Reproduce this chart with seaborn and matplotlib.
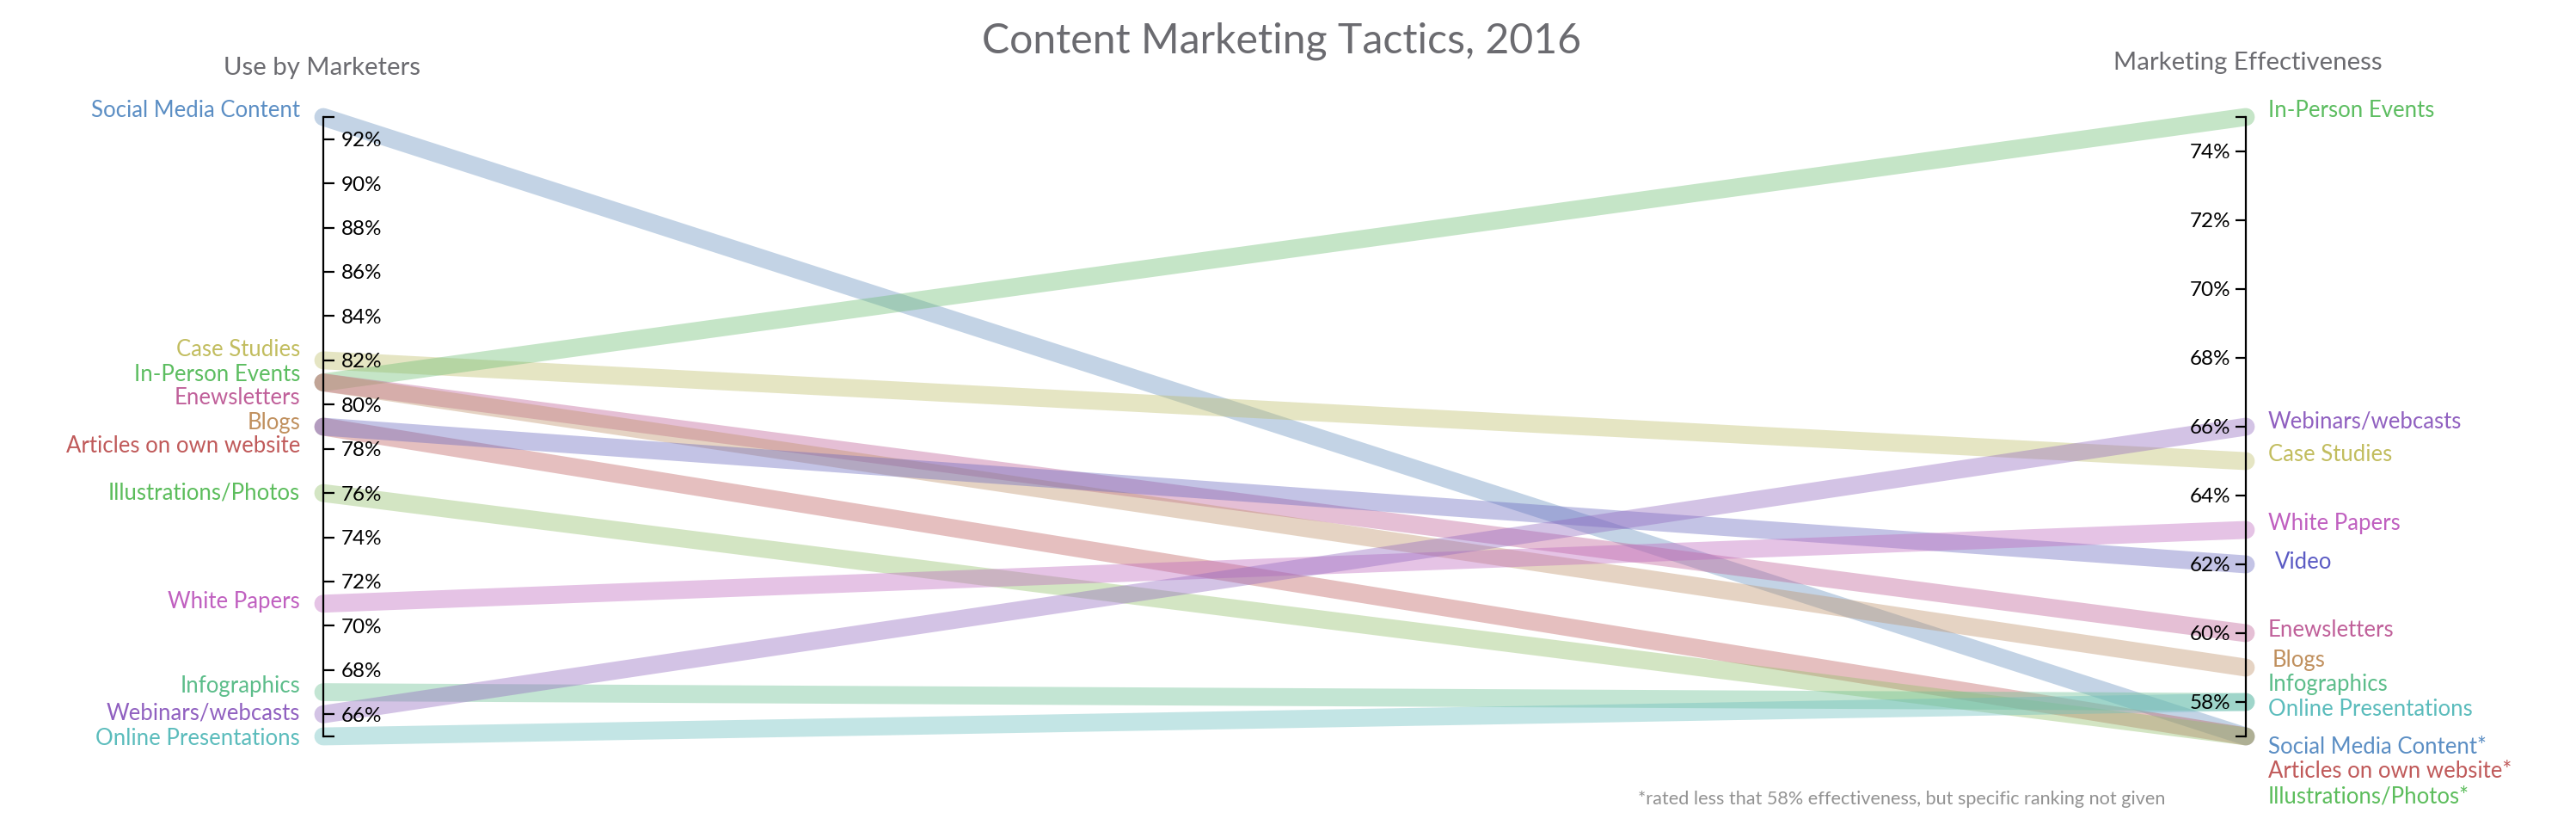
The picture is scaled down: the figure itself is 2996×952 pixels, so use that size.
import matplotlib
matplotlib.use("Agg")
import matplotlib.pyplot as plt
import seaborn as sns
import pandas as pd
import numpy as np

# ---------------- data ----------------
tactics = ["Social Media Content", "Case Studies", "In-Person Events", "Enewsletters",
           "Blogs", "Articles on own website", "Video", "Illustrations/Photos",
           "White Papers", "Infographics", "Webinars/webcasts", "Online Presentations"]
use_by_marketers = [93, 82, 81, 81, 81, 79, 79, 76, 71, 67, 66, 65]
effectiveness = [57, 65, 75, 60, 59, 57, 62, 57, 63, 58, 66, 58]
left_labels = ["Social Media Content", "Case Studies", "In-Person Events", "Enewsletters",
               "Blogs", "Articles on own website", None, "Illustrations/Photos",
               "White Papers", "Infographics", "Webinars/webcasts", "Online Presentations"]
right_labels = ["Social Media Content*", "Case Studies", "In-Person Events", "Enewsletters",
                "Blogs", "Articles on own website*", "Video", "Illustrations/Photos*",
                "White Papers", "Infographics", "Webinars/webcasts", "Online Presentations"]
left_ticks = [66, 68, 70, 72, 74, 76, 78, 80, 82, 84, 86, 88, 90, 92]
right_ticks = [58, 60, 62, 64, 66, 68, 70, 72, 74]
left_domain = (65, 93)
right_domain = (57, 75)

title = "Content Marketing Tactics, 2016"
left_title = "Use by Marketers"
right_title = "Marketing Effectiveness"
footnote = "*rated less that 58% effectiveness, but specific ranking not given"

# ---------------- styles ----------------
line_colors = {
    "Social Media Content": "#6993c0", "Case Studies": "#bebe6b", "In-Person Events": "#6ebe75",
    "Enewsletters": "#be6196", "Blogs": "#c0936b", "Articles on own website": "#be6161",
    "Video": "#6969c0", "Illustrations/Photos": "#93c06b", "White Papers": "#be69be",
    "Infographics": "#6bc093", "Webinars/webcasts": "#9369c0", "Online Presentations": "#6bbebe",
}
label_colors = {
    "Social Media Content": "#5b8ec4", "Case Studies": "#c2bd5f", "In-Person Events": "#5cbd60",
    "Enewsletters": "#c0609a", "Blogs": "#c0905e", "Articles on own website": "#c05a5a",
    "Video": "#5b5bc4", "Illustrations/Photos": "#5cbd5c", "White Papers": "#c060c0",
    "Infographics": "#5cbd8a", "Webinars/webcasts": "#9060c0", "Online Presentations": "#5bbcbc",
}
# label offsets in pixels (dx, dy) relative to the line end
left_off = {
    "Social Media Content": (-27, 8), "Case Studies": (-27, 12), "In-Person Events": (-27, 9),
    "Enewsletters": (-27, -18), "Blogs": (-27, -47), "Articles on own website": (-27, -22),
    "Illustrations/Photos": (-27, 0), "White Papers": (-27, 2), "Infographics": (-27, 7),
    "Webinars/webcasts": (-27, 1), "Online Presentations": (-27, -2),
}
right_off = {
    "In-Person Events": (26, 8), "Webinars/webcasts": (26, 6), "Case Studies": (26, 8),
    "White Papers": (26, 8), "Video": (34, 3), "Enewsletters": (26, 3), "Blogs": (31, 8),
    "Infographics": (26, 21), "Online Presentations": (26, -8),
    "Social Media Content": (26, -12), "Articles on own website": (26, -41),
    "Illustrations/Photos": (26, -70),
}

sns.set_theme(style="white")
plt.rcParams["font.family"] = ["Lato", "DejaVu Sans"]

W, H = 2996, 952
fig = plt.figure(figsize=(W / 100, H / 100), dpi=100)

xL, xR = 376 / W, 2612 / W
y_top, y_bot = 1 - 136 / H, 1 - 856 / H
ax = fig.add_axes([xL, y_bot, xR - xL, y_top - y_bot])


def to_left(v):
    return left_domain[0] + (v - right_domain[0]) * (left_domain[1] - left_domain[0]) / (right_domain[1] - right_domain[0])


rows = []
for t, a, b in zip(tactics, use_by_marketers, effectiveness):
    rows.append({"tactic": t, "side": 0.0, "value": a})
    rows.append({"tactic": t, "side": 1.0, "value": to_left(b)})
df = pd.DataFrame(rows)

sns.lineplot(data=df, x="side", y="value", hue="tactic", units="tactic", estimator=None,
             palette=line_colors, hue_order=tactics, sort=False, legend=False,
             linewidth=15, alpha=0.4, solid_capstyle="round", clip_on=False, ax=ax)
ax.set_xlim(0, 1)
ax.set_ylim(*left_domain)
ax.axis("off")

lab_fs = 18.5
for t, a, b, ll, rl in zip(tactics, use_by_marketers, effectiveness, left_labels, right_labels):
    if ll is not None:
        dx, dy = left_off[t]
        ax.annotate(ll, xy=(0, a), xytext=(dx, dy), textcoords="offset pixels",
                    ha="right", va="center", fontsize=lab_fs, color=label_colors[t],
                    annotation_clip=False)
    dx, dy = right_off[t]
    ax.annotate(rl, xy=(1, to_left(b)), xytext=(dx, dy), textcoords="offset pixels",
                ha="left", va="center", fontsize=lab_fs, color=label_colors[t],
                annotation_clip=False)

# axes
w = 0.01
tick_fs = 17.5
axl = fig.add_axes([xL - w, y_bot, w, y_top - y_bot])
axl.patch.set_alpha(0)
axl.set_ylim(*left_domain)
axl.set_xticks([])
for s in ["left", "top", "bottom"]:
    axl.spines[s].set_visible(False)
axl.spines["right"].set_linewidth(1.6)
axl.spines["right"].set_color("black")
axl.yaxis.tick_right()
axl.set_yticks(left_ticks)
axl.set_yticklabels([f"{v}%" for v in left_ticks])
axl.set_yticks(list(left_domain), minor=True)
axl.tick_params(axis="y", which="both", direction="out", length=9, width=1.6, color="black",
                labelsize=tick_fs, labelcolor="black", pad=6)

axr = fig.add_axes([xR, y_bot, w, y_top - y_bot])
axr.patch.set_alpha(0)
axr.set_ylim(*right_domain)
axr.set_xticks([])
for s in ["right", "top", "bottom"]:
    axr.spines[s].set_visible(False)
axr.spines["left"].set_linewidth(1.6)
axr.spines["left"].set_color("black")
axr.yaxis.tick_left()
axr.set_yticks(right_ticks)
axr.set_yticklabels([f"{v}%" for v in right_ticks])
axr.set_yticks(list(right_domain), minor=True)
axr.tick_params(axis="y", which="both", direction="out", length=9, width=1.6, color="black",
                labelsize=tick_fs, labelcolor="black", pad=4)

fig.text(1491 / W, 1 - 48 / H, title, ha="center", va="center", fontsize=34.7, color="#6b6b70")
fig.text(375 / W, 1 - 79 / H, left_title, ha="center", va="center", fontsize=21.2, color="#6b6b70")
fig.text(2614 / W, 1 - 73 / H, right_title, ha="center", va="center", fontsize=21.2, color="#6b6b70")
fig.text(2518 / W, 1 - 929 / H, footnote, ha="right", va="center", fontsize=15.6, color="#929292")

fig.savefig("out.png", dpi=100)
